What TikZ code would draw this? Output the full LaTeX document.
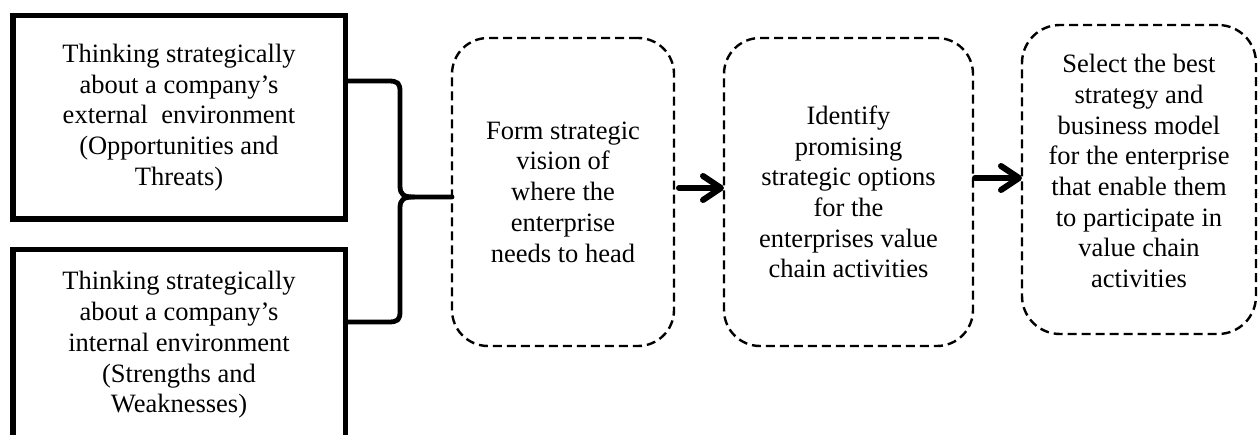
\documentclass[tikz,border=0pt]{standalone}
\usepackage{fontspec}
\setmainfont{Liberation Serif}
\usetikzlibrary{arrows.meta}
\begin{document}
\begin{tikzpicture}[x=1pt,y=-1pt,
  every node/.style={font=\fontsize{26.5}{30.7}\selectfont, align=center, inner sep=0pt, outer sep=0pt},
  solidbox/.style={draw, line width=5.5pt},
  dashbox/.style={draw, line width=2.4pt, dash pattern=on 9pt off 5pt},
  bracket/.style={line width=4.8pt, line cap=round, line join=round},
  flow/.style={line width=6pt, line cap=round,
    -{Straight Barb[length=18pt,width=24pt,round]}}]
\useasboundingbox (0,0) rectangle (1260,435);

% solid input boxes
\node[solidbox, minimum width=332.5pt, minimum height=203.5pt] (A) at (179,117.5)
  {Thinking strategically\\about a company’s\\external\ \ environment\\(Opportunities and\\Threats)};
\node[solidbox, minimum width=332.5pt, minimum height=190.5pt] (B) at (179,345)
  {Thinking strategically\\about a company’s\\internal environment\\(Strengths and\\Weaknesses)};

% dashed process boxes
\node[dashbox, rounded corners=36pt, minimum width=222pt, minimum height=308pt] (C) at (563,192)
  {Form strategic\\vision of\\where the\\enterprise\\needs to head};
\node[dashbox, rounded corners=36pt, minimum width=249pt, minimum height=308pt] (D) at (848.5,192)
  {Identify\\promising\\strategic options\\for the\\enterprises value\\chain activities};
\node[dashbox, rounded corners=38pt, minimum width=234pt, minimum height=309pt] (E) at (1139,179.5) {};
\node (Etext) at (1139,171)
  {Select the best\\strategy and\\business model\\for the enterprise\\that enable them\\to participate in\\value chain\\activities};

% bracket joining the two input boxes
\coordinate (cusp) at (414,197);
\draw[bracket] ([yshift=36.5pt]A.east) -- (388,81) .. controls (398,81) and (400,83) .. (400,92)
  -- (400,186) .. controls (400,195) and (404,197) .. (cusp) -- ([yshift=-5pt]C.west);
\draw[bracket] ([yshift=23pt]B.east) -- (388,322) .. controls (398,322) and (400,320) .. (400,311)
  -- (400,208) .. controls (400,199) and (404,197) .. (cusp);

% flow arrows
\draw[flow] ([yshift=4pt,xshift=5pt]C.east) -- ([yshift=4pt]D.west);
\draw[flow] ([yshift=14pt,xshift=2pt]D.east) -- ([yshift=14pt]D.east -| E.west);
\end{tikzpicture}
\end{document}
